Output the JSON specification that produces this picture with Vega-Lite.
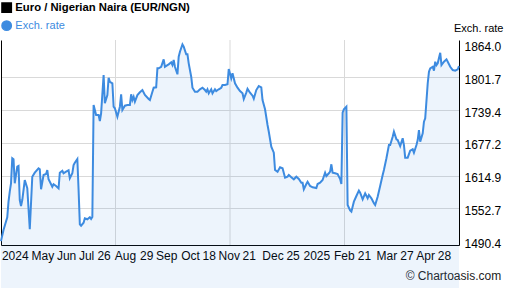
{
"$schema": "https://vega.github.io/schema/vega-lite/v6.json",
"width": 458, "height": 205,
"autosize": "none",
"padding": {"left": 1, "top": 40, "right": 48, "bottom": 43},
"config": {"font": "Liberation Sans", "view": {"stroke": null}},
"data": {"values": [
{"d":"2024-05-01","v":1490.4},{"d":"2024-05-03","v":1511.5},{"d":"2024-05-06","v":1535.7},{"d":"2024-05-07","v":1565.3},{"d":"2024-05-08","v":1584.3},{"d":"2024-05-09","v":1600.3},{"d":"2024-05-10","v":1647.8},{"d":"2024-05-11","v":1645.9},{"d":"2024-05-12","v":1600.3},{"d":"2024-05-14","v":1631.8},{"d":"2024-05-15","v":1633.1},{"d":"2024-05-16","v":1568.5},{"d":"2024-05-17","v":1557.1},{"d":"2024-05-18","v":1568.5},{"d":"2024-05-20","v":1606.5},{"d":"2024-05-22","v":1590.8},{"d":"2024-05-24","v":1512.9},{"d":"2024-05-26","v":1612.8},{"d":"2024-05-28","v":1620.4},{"d":"2024-05-31","v":1628.8},
{"d":"2024-06-01","v":1626.9},{"d":"2024-06-02","v":1588.9},{"d":"2024-06-04","v":1616.0},{"d":"2024-06-06","v":1617.9},{"d":"2024-06-07","v":1625.5},{"d":"2024-06-08","v":1607.9},{"d":"2024-06-11","v":1593.8},{"d":"2024-06-12","v":1598.4},{"d":"2024-06-14","v":1595.1},{"d":"2024-06-16","v":1590.8},{"d":"2024-06-17","v":1620.4},{"d":"2024-06-19","v":1624.2},{"d":"2024-06-20","v":1619.3},{"d":"2024-06-22","v":1622.3},{"d":"2024-06-24","v":1625.0},{"d":"2024-06-25","v":1609.8},{"d":"2024-06-27","v":1619.3},{"d":"2024-06-28","v":1635.0},{"d":"2024-06-29","v":1639.4},
{"d":"2024-07-01","v":1646.4},{"d":"2024-07-02","v":1587.5},{"d":"2024-07-03","v":1522.4},{"d":"2024-07-04","v":1519.7},{"d":"2024-07-06","v":1525.4},{"d":"2024-07-07","v":1533.8},{"d":"2024-07-09","v":1531.9},{"d":"2024-07-11","v":1535.7},{"d":"2024-07-12","v":1532.4},{"d":"2024-07-13","v":1536.2},{"d":"2024-07-14","v":1749.0},{"d":"2024-07-16","v":1730.0},{"d":"2024-07-18","v":1730.0},{"d":"2024-07-19","v":1718.6},{"d":"2024-07-20","v":1733.3},{"d":"2024-07-22","v":1806.0},{"d":"2024-07-23","v":1752.3},{"d":"2024-07-25","v":1768.0},{"d":"2024-07-26","v":1800.9},{"d":"2024-07-27","v":1793.3},{"d":"2024-07-29","v":1790.3},{"d":"2024-07-30","v":1745.8},{"d":"2024-07-31","v":1742.8},
{"d":"2024-08-02","v":1726.8},{"d":"2024-08-04","v":1745.8},{"d":"2024-08-05","v":1769.4},{"d":"2024-08-06","v":1739.5},{"d":"2024-08-08","v":1747.7},{"d":"2024-08-10","v":1749.0},{"d":"2024-08-12","v":1749.0},{"d":"2024-08-13","v":1769.4},{"d":"2024-08-14","v":1758.5},{"d":"2024-08-15","v":1764.8},{"d":"2024-08-16","v":1755.3},{"d":"2024-08-18","v":1768.0},{"d":"2024-08-20","v":1773.2},{"d":"2024-08-22","v":1777.5},{"d":"2024-08-24","v":1768.0},{"d":"2024-08-27","v":1760.4},{"d":"2024-08-28","v":1758.5},{"d":"2024-08-30","v":1774.3},{"d":"2024-08-31","v":1781.9},
{"d":"2024-09-02","v":1782.7},{"d":"2024-09-03","v":1818.8},{"d":"2024-09-04","v":1818.8},{"d":"2024-09-06","v":1821.8},{"d":"2024-09-08","v":1835.9},{"d":"2024-09-09","v":1821.8},{"d":"2024-09-11","v":1825.0},{"d":"2024-09-12","v":1826.4},{"d":"2024-09-14","v":1830.2},{"d":"2024-09-15","v":1825.0},{"d":"2024-09-16","v":1834.5},{"d":"2024-09-17","v":1821.8},{"d":"2024-09-19","v":1807.4},{"d":"2024-09-20","v":1840.8},{"d":"2024-09-21","v":1850.3},{"d":"2024-09-23","v":1864.0},{"d":"2024-09-24","v":1859.8},{"d":"2024-09-26","v":1845.4},{"d":"2024-09-27","v":1845.4},{"d":"2024-09-28","v":1828.3},{"d":"2024-09-30","v":1802.8},
{"d":"2024-10-01","v":1781.9},{"d":"2024-10-03","v":1774.3},{"d":"2024-10-05","v":1774.3},{"d":"2024-10-07","v":1778.9},{"d":"2024-10-09","v":1781.9},{"d":"2024-10-11","v":1777.5},{"d":"2024-10-12","v":1774.3},{"d":"2024-10-13","v":1778.9},{"d":"2024-10-14","v":1771.3},{"d":"2024-10-16","v":1778.9},{"d":"2024-10-17","v":1771.3},{"d":"2024-10-19","v":1778.9},{"d":"2024-10-20","v":1775.6},{"d":"2024-10-22","v":1778.9},{"d":"2024-10-24","v":1781.9},{"d":"2024-10-25","v":1787.0},{"d":"2024-10-27","v":1787.0},{"d":"2024-10-29","v":1788.4},{"d":"2024-10-30","v":1817.4},
{"d":"2024-11-01","v":1799.8},{"d":"2024-11-02","v":1809.3},{"d":"2024-11-04","v":1790.3},{"d":"2024-11-06","v":1781.9},{"d":"2024-11-08","v":1775.6},{"d":"2024-11-10","v":1771.3},{"d":"2024-11-11","v":1760.4},{"d":"2024-11-13","v":1772.7},{"d":"2024-11-14","v":1779.7},{"d":"2024-11-16","v":1772.4},{"d":"2024-11-18","v":1766.7},{"d":"2024-11-19","v":1761.0},{"d":"2024-11-21","v":1777.5},{"d":"2024-11-23","v":1785.1},{"d":"2024-11-25","v":1782.7},{"d":"2024-11-26","v":1758.5},{"d":"2024-11-28","v":1740.9},{"d":"2024-11-30","v":1711.0},
{"d":"2024-12-01","v":1698.3},{"d":"2024-12-03","v":1669.8},{"d":"2024-12-05","v":1658.4},{"d":"2024-12-06","v":1625.5},{"d":"2024-12-08","v":1622.3},{"d":"2024-12-10","v":1630.7},{"d":"2024-12-12","v":1628.8},{"d":"2024-12-14","v":1610.9},{"d":"2024-12-16","v":1612.8},{"d":"2024-12-17","v":1616.0},{"d":"2024-12-19","v":1611.7},{"d":"2024-12-21","v":1607.9},{"d":"2024-12-23","v":1612.8},{"d":"2024-12-25","v":1608.4},{"d":"2024-12-27","v":1601.4},{"d":"2024-12-28","v":1601.4},{"d":"2024-12-29","v":1588.9},{"d":"2024-12-31","v":1598.9},
{"d":"2025-01-01","v":1603.3},{"d":"2025-01-03","v":1595.1},{"d":"2025-01-05","v":1592.7},{"d":"2025-01-08","v":1591.3},{"d":"2025-01-09","v":1598.9},{"d":"2025-01-11","v":1601.4},{"d":"2025-01-13","v":1606.5},{"d":"2025-01-15","v":1620.4},{"d":"2025-01-16","v":1614.1},{"d":"2025-01-18","v":1619.3},{"d":"2025-01-19","v":1622.3},{"d":"2025-01-20","v":1636.4},{"d":"2025-01-21","v":1620.4},{"d":"2025-01-23","v":1619.3},{"d":"2025-01-25","v":1617.9},{"d":"2025-01-27","v":1608.4},{"d":"2025-01-28","v":1598.9},{"d":"2025-01-29","v":1734.4},{"d":"2025-01-30","v":1740.9},
{"d":"2025-02-01","v":1745.8},{"d":"2025-02-02","v":1559.0},{"d":"2025-02-04","v":1548.6},{"d":"2025-02-05","v":1546.3},{"d":"2025-02-07","v":1565.3},{"d":"2025-02-09","v":1576.1},{"d":"2025-02-11","v":1586.2},{"d":"2025-02-12","v":1582.4},{"d":"2025-02-14","v":1569.9},{"d":"2025-02-16","v":1581.3},{"d":"2025-02-18","v":1571.8},{"d":"2025-02-19","v":1578.0},{"d":"2025-02-21","v":1571.8},{"d":"2025-02-23","v":1562.3},{"d":"2025-02-24","v":1559.0},{"d":"2025-02-26","v":1574.8},{"d":"2025-02-28","v":1595.1},
{"d":"2025-03-02","v":1616.0},{"d":"2025-03-03","v":1625.5},{"d":"2025-03-05","v":1647.8},{"d":"2025-03-07","v":1673.0},{"d":"2025-03-08","v":1673.0},{"d":"2025-03-10","v":1688.8},{"d":"2025-03-11","v":1698.3},{"d":"2025-03-13","v":1683.9},{"d":"2025-03-14","v":1682.5},{"d":"2025-03-16","v":1671.1},{"d":"2025-03-18","v":1685.8},{"d":"2025-03-19","v":1673.0},{"d":"2025-03-20","v":1648.9},{"d":"2025-03-22","v":1648.9},{"d":"2025-03-24","v":1662.2},{"d":"2025-03-26","v":1664.9},{"d":"2025-03-27","v":1658.4},{"d":"2025-03-29","v":1673.0},{"d":"2025-03-30","v":1682.5},{"d":"2025-03-31","v":1701.5},
{"d":"2025-04-01","v":1679.3},{"d":"2025-04-03","v":1695.3},{"d":"2025-04-04","v":1717.3},{"d":"2025-04-05","v":1723.8},{"d":"2025-04-07","v":1790.3},{"d":"2025-04-08","v":1812.3},{"d":"2025-04-09","v":1818.8},{"d":"2025-04-11","v":1821.8},{"d":"2025-04-12","v":1814.2},{"d":"2025-04-13","v":1831.3},{"d":"2025-04-14","v":1825.0},{"d":"2025-04-15","v":1828.3},{"d":"2025-04-17","v":1848.4},{"d":"2025-04-18","v":1825.0},{"d":"2025-04-20","v":1831.3},{"d":"2025-04-22","v":1835.9},{"d":"2025-04-23","v":1831.3},{"d":"2025-04-25","v":1821.8},{"d":"2025-04-27","v":1815.5},{"d":"2025-04-29","v":1814.2},{"d":"2025-05-01","v":1816.9},{"d":"2025-05-02","v":1823.1}
]},
"encoding": {
  "x": {"field": "d", "type": "temporal",
    "scale": {"type": "utc", "nice": false, "domain": [{"year": 2024, "month": 5, "date": 1, "utc": true}, {"year": 2025, "month": 5, "date": 2, "utc": true}]},
    "axis": {
      "values": [
        {"year":2024,"month":5,"date":12,"utc":true},{"year":2024,"month":6,"date":3,"utc":true},{"year":2024,"month":6,"date":22,"utc":true},{"year":2024,"month":7,"date":8,"utc":true},{"year":2024,"month":7,"date":22,"utc":true},{"year":2024,"month":8,"date":8,"utc":true},{"year":2024,"month":8,"date":25,"utc":true},{"year":2024,"month":9,"date":10,"utc":true},{"year":2024,"month":9,"date":29,"utc":true},{"year":2024,"month":10,"date":14,"utc":true},{"year":2024,"month":10,"date":30,"utc":true},{"year":2024,"month":11,"date":15,"utc":true},{"year":2024,"month":12,"date":4,"utc":true},{"year":2024,"month":12,"date":20,"utc":true},{"year":2025,"month":1,"date":8,"utc":true},{"year":2025,"month":1,"date":30,"utc":true},{"year":2025,"month":2,"date":15,"utc":true},{"year":2025,"month":3,"date":5,"utc":true},{"year":2025,"month":3,"date":21,"utc":true},{"year":2025,"month":4,"date":5,"utc":true},{"year":2025,"month":4,"date":20,"utc":true}
      ],
      "labelExpr": "['2024','May','Jun','Jul','26','Aug','29','Sep','Oct','18','Nov','21','Dec','25','2025','Feb','21','Mar','27','Apr','28'][indexof(['2024-05-12','2024-06-03','2024-06-22','2024-07-08','2024-07-22','2024-08-08','2024-08-25','2024-09-10','2024-09-29','2024-10-14','2024-10-30','2024-11-15','2024-12-04','2024-12-20','2025-01-08','2025-01-30','2025-02-15','2025-03-05','2025-03-21','2025-04-05','2025-04-20'], utcFormat(datum.value, '%Y-%m-%d'))]",
      "grid": false, "ticks": false, "domain": true, "domainColor": "#000000", "domainWidth": 1,
      "labelPadding": 5, "labelFontSize": 12, "labelColor": "#000000", "labelOverlap": false, "labelFlush": false, "labelAngle": 0,
      "title": "© Chartoasis.com", "titleX": 499.7, "titleY": 34.5, "titleAlign": "right", "titleBaseline": "alphabetic", "titleAnchor": null,
      "titleFontSize": 12, "titleFontWeight": "normal", "titleColor": "#222222"
    }
  }
},
"layer": [
  {"data": {"values": [{"d": "2024-07-31T12:00:00Z"}, {"d": "2024-10-31T00:00:00Z"}, {"d": "2025-01-30T12:00:00Z"}]},
   "mark": {"type": "rule", "color": "#d9d9d9", "strokeWidth": 1}},
  {"mark": {"type": "area", "color": "#3d8be0", "opacity": 0.093},
   "encoding": {"y": {"field": "v", "type": "quantitative",
     "scale": {"domain": [1483, 1872.6], "nice": false, "zero": false},
     "axis": {"orient": "left", "labels": false, "ticks": false, "grid": false, "domain": true, "domainColor": "#000000", "title": null}}}},
  {"mark": {"type": "line", "strokeWidth": 2},
   "encoding": {
     "y": {"field": "v", "type": "quantitative",
       "axis": {"orient": "right", "values": [1490.4, 1552.7, 1614.9, 1677.2, 1739.4, 1801.7, 1864.0], "format": ".1f",
         "grid": true, "gridColor": {"condition": {"test": "datum.value > 1863 || datum.value < 1491", "value": "transparent"}, "value": "#d9d9d9"},
         "ticks": false, "domain": true, "domainColor": "#000000", "labelPadding": 5, "labelFontSize": 12, "labelColor": "#000000", "labelOffset": 2,
         "title": "Exch. rate", "titleAngle": 0, "titleAlign": "right", "titleBaseline": "alphabetic", "titleX": 44, "titleY": -8.3,
         "titleFontSize": 11, "titleFontWeight": "normal", "titleColor": "#000000"}},
     "color": {"datum": "Exch. rate", "type": "nominal",
       "scale": {"domain": ["Euro / Nigerian Naira (EUR/NGN)", "Exch. rate"], "range": ["#000000", "#3d8be0"]},
       "legend": {"orient": "none", "legendX": 0, "legendY": -38, "title": null, "symbolSize": 88, "labelFontSize": 11, "labelOffset": 3, "rowPadding": 1, "padding": 0, "labelLimit": 400,
         "encode": {
           "symbols": {"update": {"shape": {"signal": "datum.label === 'Exch. rate' ? 'circle' : 'square'"}, "fill": {"signal": "datum.label === 'Exch. rate' ? '#3d8be0' : '#000000'"}, "stroke": {"value": "transparent"}, "opacity": {"value": 1}}},
           "labels": {"update": {"fontWeight": {"signal": "datum.label === 'Exch. rate' ? 'normal' : 'bold'"}, "fill": {"signal": "datum.label === 'Exch. rate' ? '#3d8be0' : '#000000'"}, "fontSize": {"signal": "datum.label === 'Exch. rate' ? 11 : 11.3"}}}
         }}}
   }}
],
"resolve": {"axis": {"y": "independent"}}
}
